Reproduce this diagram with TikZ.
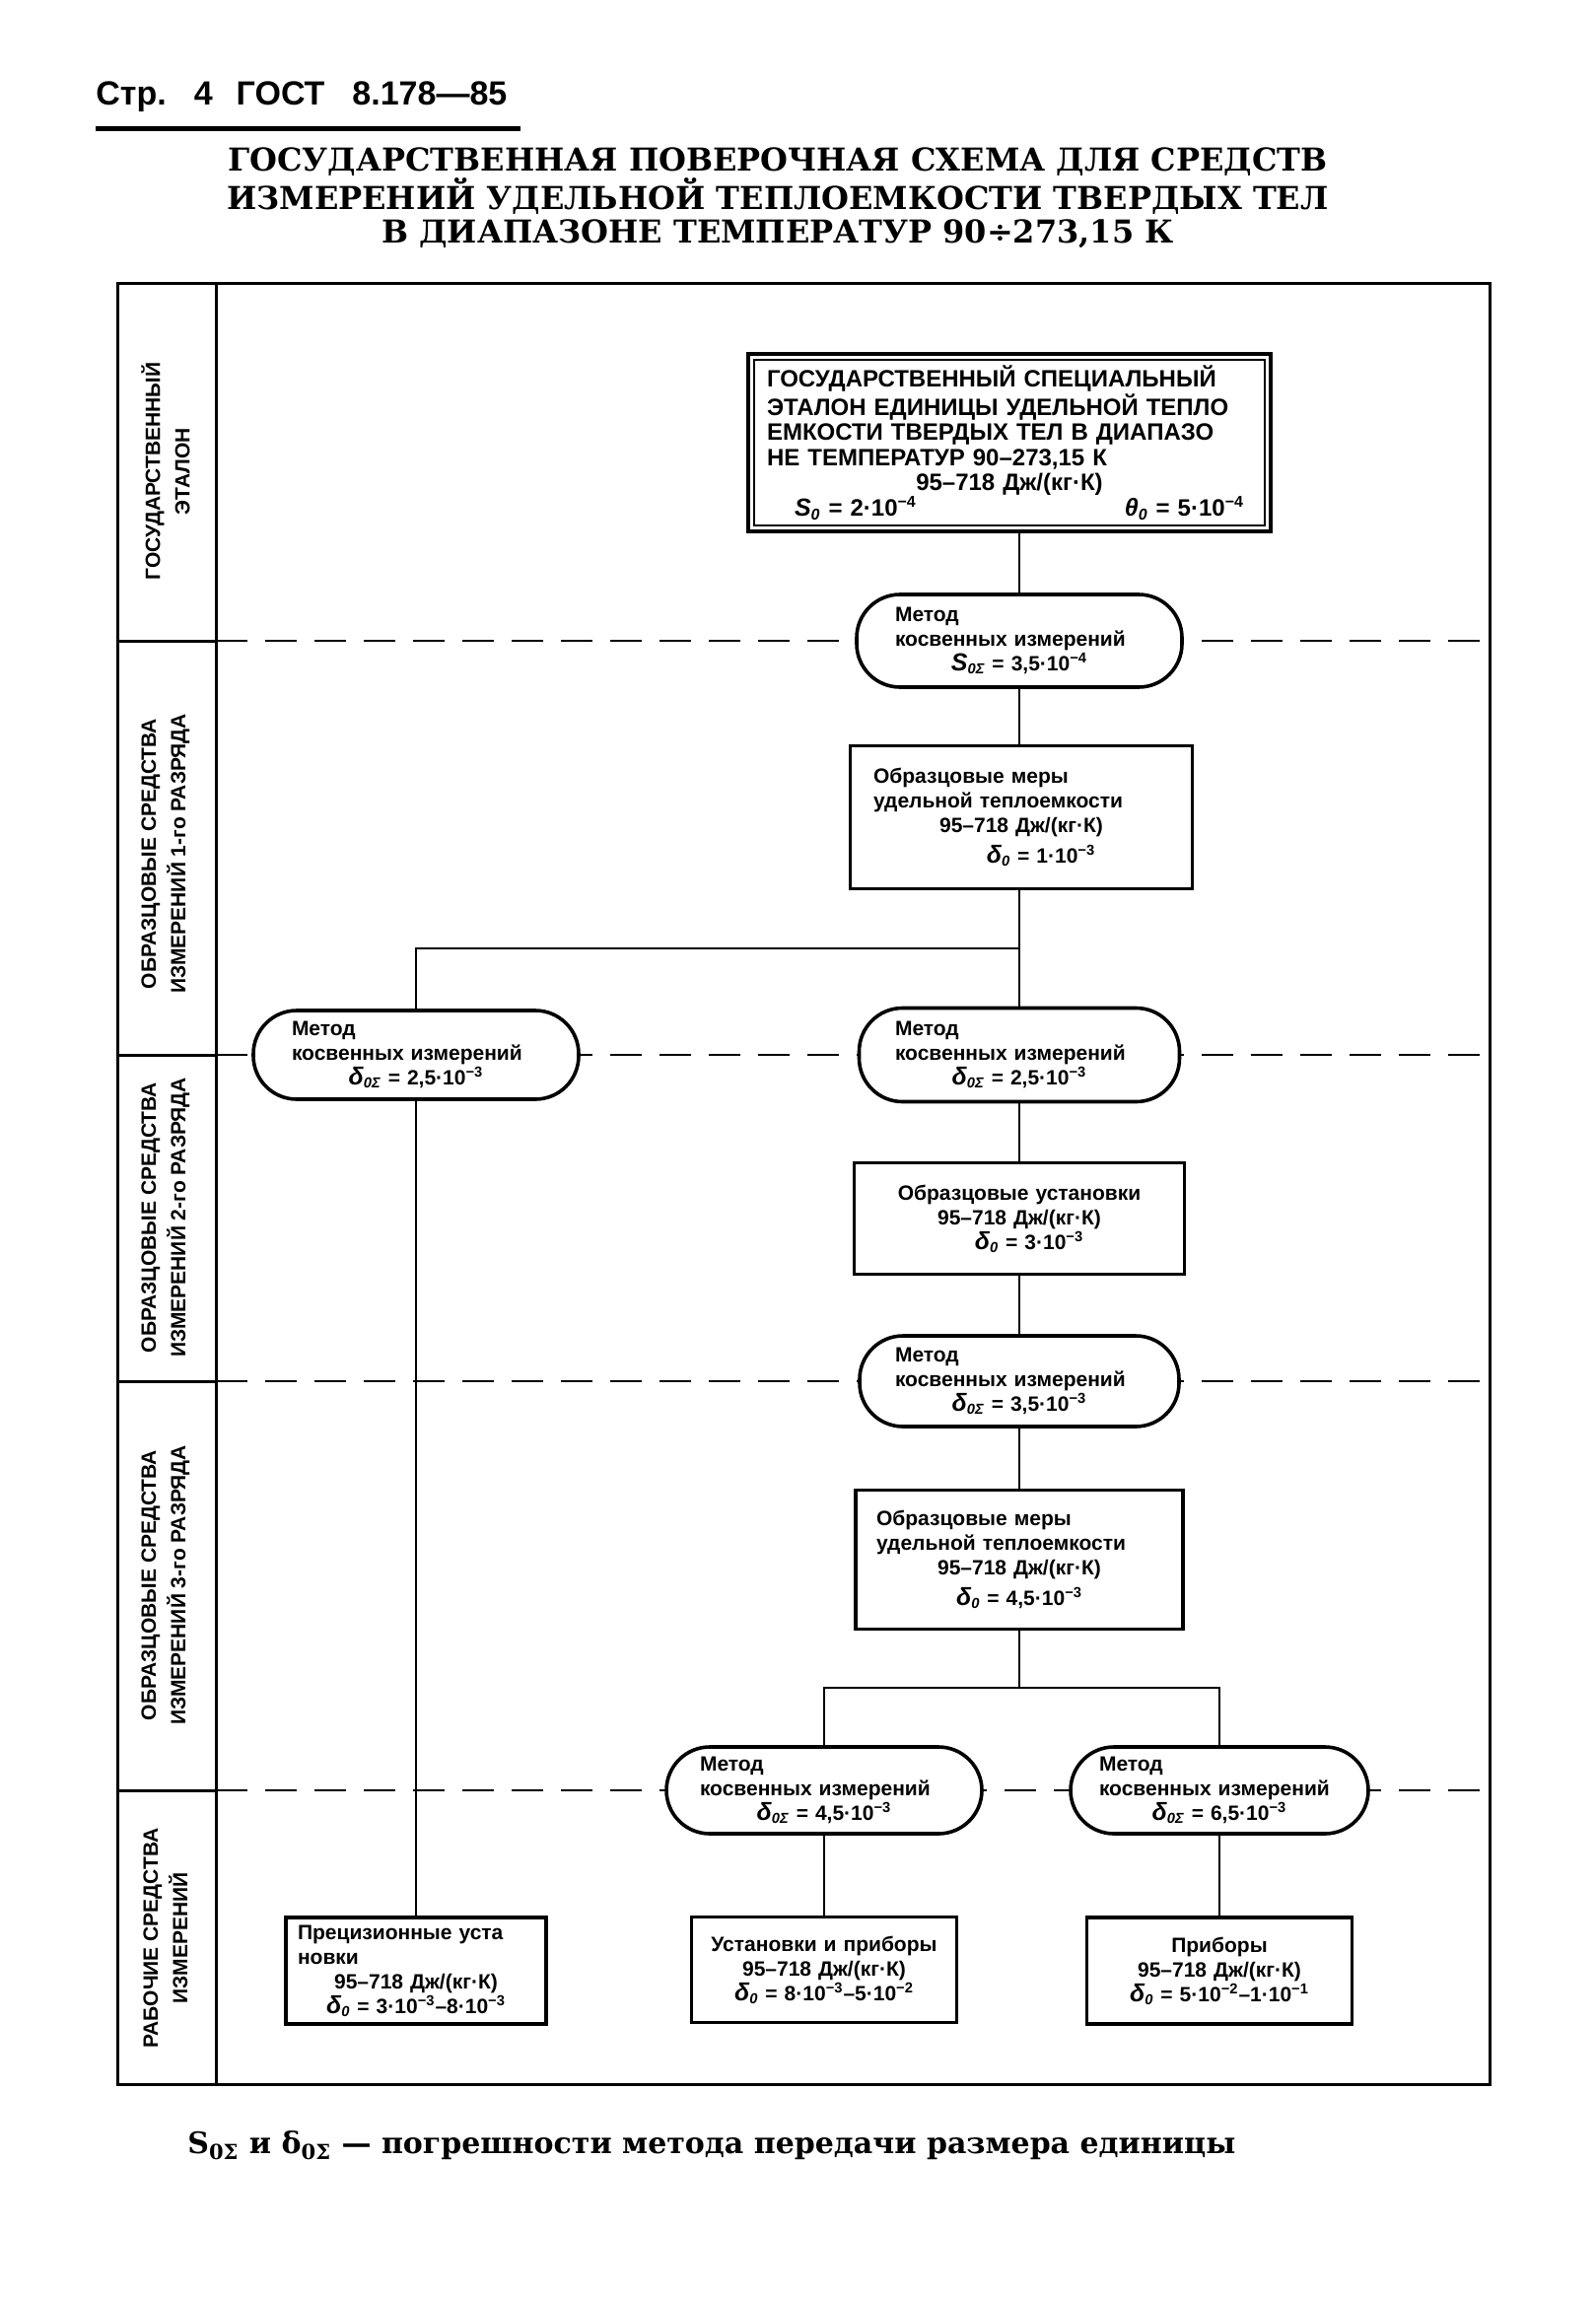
\documentclass[tikz,border=0pt]{standalone}
\usepackage{fontspec}
\setmainfont{Liberation Sans}
\newfontfamily\titlefont{DejaVu Serif}
\newcommand{\pw}[1]{\textsuperscript{#1}}
\newcommand{\ctrline}[1]{\hfill #1\hfill\null}
\newcommand{\sy}[2]{{\itshape\fontsize{12.5}{12}\selectfont #1}\textsubscript{\itshape #2}}
\tikzset{
  frameline/.style={line width=1.5pt},
  sepdash/.style={line width=1pt, dash pattern=on 16pt off 9pt},
  conn/.style={line width=1.1pt},
  stadium/.style={draw, line width=1.8pt, fill=white, rounded corners=22pt, inner sep=0pt,
    font=\bfseries\fontsize{10.5}{12.5}\selectfont, align=left, text width=126pt},
  sqbox/.style={draw, line width=1.8pt, fill=white, inner sep=0pt,
    font=\bfseries\fontsize{10.5}{12.5}\selectfont, align=left},
  rowlabel/.style={rotate=90, align=center, font=\bfseries\fontsize{10.5}{15}\selectfont},
}
\begin{document}
\begin{tikzpicture}[x=0.5pt,y=-0.5pt]
\useasboundingbox (0,0) rectangle (1618,2333);
% header
\node[anchor=west, inner sep=0pt, font=\bfseries\fontsize{17}{17}\selectfont] (hdr) at (97,98) {Стр.\hspace{14pt}4\hspace{12pt}ГОСТ\hspace{14pt}8.178—85};
\draw[line width=2.5pt] (97,131) -- (528,131);
\node[align=center, font=\titlefont\bfseries\fontsize{16}{17}\selectfont] (title) at (789,201)
 {ГОСУДАРСТВЕННАЯ ПОВЕРОЧНАЯ СХЕМА ДЛЯ СРЕДСТВ\\ИЗМЕРЕНИЙ УДЕЛЬНОЙ ТЕПЛОЕМКОСТИ ТВЕРДЫХ ТЕЛ\\В ДИАПАЗОНЕ ТЕМПЕРАТУР 90÷273,15 К};
% frame
\draw[frameline] (119,287) rectangle (1511,2114);
\draw[frameline] (219,287) -- (219,2114);
\foreach \yy in {650,1070,1401,1816} {
  \draw[frameline] (119,\yy) -- (219,\yy);
  \draw[sepdash] (219,\yy) -- (1511,\yy);
}
% row labels
\node[rowlabel] (r1) at (168,478) {ГОСУДАРСТВЕННЫЙ\\ЭТАЛОН};
\node[rowlabel] (r2) at (168,866) {ОБРАЗЦОВЫЕ СРЕДСТВА\\ИЗМЕРЕНИЙ 1-го РАЗРЯДА};
\node[rowlabel] (r3) at (168,1235) {ОБРАЗЦОВЫЕ СРЕДСТВА\\ИЗМЕРЕНИЙ 2-го РАЗРЯДА};
\node[rowlabel] (r4) at (168,1608) {ОБРАЗЦОВЫЕ СРЕДСТВА\\ИЗМЕРЕНИЙ 3-го РАЗРЯДА};
\node[rowlabel] (r5) at (168,1966) {РАБОЧИЕ СРЕДСТВА\\ИЗМЕРЕНИЙ};
% state standard
\node[sqbox, line width=2pt, minimum width=265pt, minimum height=90pt, text width=246pt,
      font=\bfseries\fontsize{12}{12.8}\selectfont] (std) at (1024,449)
 {ГОСУДАРСТВЕННЫЙ СПЕЦИАЛЬНЫЙ\\ЭТАЛОН ЕДИНИЦЫ УДЕЛЬНОЙ ТЕПЛО\\ЕМКОСТИ ТВЕРДЫХ ТЕЛ В ДИАПАЗО\\НЕ ТЕМПЕРАТУР 90–273,15 К\\\ctrline{95–718 Дж/(кг·К)}\\\hspace*{14pt}\sy{S}{0} = 2·10\pw{−4}\hfill\sy{θ}{0} = 5·10\pw{−4}\hspace*{4pt}\null};
\draw[line width=0.9pt] ([shift={(4pt,-4pt)}]std.north west) rectangle ([shift={(-4pt,4pt)}]std.south east);
% trunk nodes
\node[stadium, minimum width=165pt, minimum height=47pt] (m1) at (1034,650)
 {Метод\\косвенных измерений\\\ctrline{\sy{S}{0Σ} = 3,5·10\pw{−4}}};
\node[sqbox, minimum width=173.5pt, minimum height=72.5pt, text width=150pt] (b1) at (1036,829)
 {Образцовые меры\\удельной теплоемкости\\\ctrline{95–718 Дж/(кг·К)}\\[3pt]\ctrline{\hspace*{20pt}\sy{δ}{0} = 1·10\pw{−3}}};
\node[stadium, minimum width=162.5pt, minimum height=47.5pt] (m2) at (1034,1070)
 {Метод\\косвенных измерений\\\ctrline{\sy{δ}{0Σ} = 2,5·10\pw{−3}}};
\node[stadium, minimum width=165pt, minimum height=45pt] (mL) at (422,1070)
 {Метод\\косвенных измерений\\\ctrline{\sy{δ}{0Σ} = 2,5·10\pw{−3}}};
\node[sqbox, minimum width=167.5pt, minimum height=56.5pt, text width=140pt] (b2) at (1034,1236)
 {\ctrline{Образцовые установки}\\\ctrline{95–718 Дж/(кг·К)}\\\ctrline{\hspace*{10pt}\sy{δ}{0} = 3·10\pw{−3}}};
\node[stadium, minimum width=162pt, minimum height=46pt] (m3) at (1034,1401)
 {Метод\\косвенных измерений\\\ctrline{\sy{δ}{0Σ} = 3,5·10\pw{−3}}};
\node[sqbox, minimum width=166pt, minimum height=70.5pt, text width=145pt] (b3) at (1034,1582)
 {Образцовые меры\\удельной теплоемкости\\\ctrline{95–718 Дж/(кг·К)}\\[3pt]\ctrline{\sy{δ}{0} = 4,5·10\pw{−3}}};
\node[stadium, minimum width=160pt, minimum height=44pt] (m4) at (836,1816)
 {Метод\\косвенных измерений\\\ctrline{\sy{δ}{0Σ} = 4,5·10\pw{−3}}};
\node[stadium, minimum width=151pt, minimum height=44pt, text width=122pt] (m5) at (1237,1816)
 {Метод\\косвенных измерений\\\ctrline{\sy{δ}{0Σ} = 6,5·10\pw{−3}}};
% working instruments
\node[sqbox, minimum width=132pt, minimum height=54pt, text width=120pt] (bL) at (422,1999)
 {Прецизионные уста\\новки\\\ctrline{95–718 Дж/(кг·К)}\\\ctrline{\sy{δ}{0} = 3·10\pw{−3}–8·10\pw{−3}}};
\node[sqbox, minimum width=134.5pt, minimum height=53.5pt, text width=124pt] (bM) at (836,1998)
 {\ctrline{Установки и приборы}\\\ctrline{95–718 Дж/(кг·К)}\\\ctrline{\sy{δ}{0} = 8·10\pw{−3}–5·10\pw{−2}}};
\node[sqbox, minimum width=134.5pt, minimum height=54pt, text width=124pt] (bR) at (1237,1999)
 {\ctrline{Приборы}\\\ctrline{95–718 Дж/(кг·К)}\\\ctrline{\sy{δ}{0} = 5·10\pw{−2}–1·10\pw{−1}}};
% connectors
\coordinate (br1) at (1034,962);
\coordinate (br2) at (1034,1712);
\draw[conn] (m1.north |- std.south) -- (m1.north);
\draw[conn] (m1.south) -- (m1.south |- b1.north);
\draw[conn] (m2.north |- b1.south) -- (m2.north);
\draw[conn] (br1) -| (mL.north);
\draw[conn] (mL.south) -- (bL.north);
\draw[conn] (m2.south) -- (b2.north);
\draw[conn] (b2.south) -- (m3.north);
\draw[conn] (m3.south) -- (b3.north);
\draw[conn] (b3.south) -- (br2);
\draw[conn] (m4.north) |- (br2) -| (m5.north);
\draw[conn] (m4.south) -- (bM.north);
\draw[conn] (m5.south) -- (bR.north);
% footnote
\node[anchor=west, inner sep=0pt, font=\titlefont\bfseries\fontsize{15}{15}\selectfont] (foot) at (190,2176)
 {S\textsubscript{0Σ} и δ\textsubscript{0Σ} — погрешности метода передачи размера единицы};
\end{tikzpicture}
\end{document}
